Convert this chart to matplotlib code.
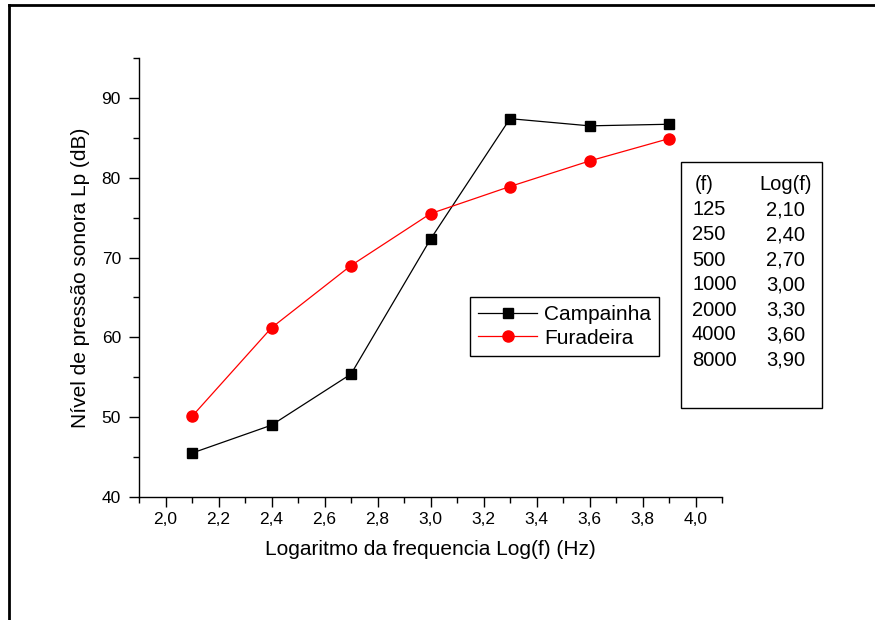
import matplotlib
matplotlib.use("Agg")
import matplotlib.pyplot as plt
from matplotlib.lines import Line2D
from matplotlib.patches import Rectangle
from matplotlib.ticker import MultipleLocator, FuncFormatter

plt.rcParams['font.family'] = ['Liberation Sans', 'DejaVu Sans']

logf = [2.1, 2.4, 2.7, 3.0, 3.3, 3.6, 3.9]
campainha = [45.5, 49.0, 55.4, 72.3, 87.4, 86.5, 86.7]
furadeira = [50.1, 61.2, 69.0, 75.5, 78.9, 82.1, 84.9]
freq_labels = ["125", "250", "500", "1000", "2000", "4000", "8000"]
log_labels = ["2,10", "2,40", "2,70", "3,00", "3,30", "3,60", "3,90"]

W, H = 875, 620
fig = plt.figure(figsize=(W / 100, H / 100), dpi=100)

def fx(px):
    return px / W

def fy(py):
    return 1 - py / H

ax = fig.add_axes([fx(139), fy(497), fx(722) - fx(139), fy(58) - fy(497)])
ax.plot(logf, campainha, color='black', lw=0.9, marker='s', markersize=7, label='Campainha')
ax.plot(logf, furadeira, color='red', lw=0.9, marker='o', markersize=8, label='Furadeira')
ax.set_xlim(1.9, 4.1)
ax.set_ylim(40, 95)
ax.spines['top'].set_visible(False)
ax.spines['right'].set_visible(False)
for s in ('left', 'bottom'):
    ax.spines[s].set_linewidth(1.0)
ax.xaxis.set_major_locator(MultipleLocator(0.2))
ax.xaxis.set_minor_locator(MultipleLocator(0.1))
ax.yaxis.set_major_locator(MultipleLocator(10))
ax.yaxis.set_minor_locator(MultipleLocator(5))
ax.xaxis.set_major_formatter(FuncFormatter(lambda v, p: f"{v:.1f}".replace('.', ',')))
ax.yaxis.set_major_formatter(FuncFormatter(lambda v, p: f"{v:.0f}"))
ax.tick_params(which='major', direction='out', length=7, width=1, labelsize=12.5)
ax.tick_params(axis='x', which='major', pad=3.5)
ax.tick_params(axis='y', which='major', pad=6)
ax.tick_params(which='minor', direction='out', length=4.5, width=1)
ax.set_xlabel('Logaritmo da frequencia Log(f) (Hz)', fontsize=15, labelpad=10)
ax.set_ylabel('Nível de pressão sonora Lp (dB)', fontsize=15, labelpad=8)

leg = ax.legend(loc='upper left', bbox_to_anchor=(fx(470), fy(297)), bbox_transform=fig.transFigure,
                fontsize=15, frameon=True, fancybox=False, edgecolor='black', framealpha=1,
                handlelength=2.8, borderpad=0.4, labelspacing=0.2, handletextpad=0.35, borderaxespad=0)
leg.get_frame().set_linewidth(1.0)

# table box
fig.add_artist(Rectangle((fx(681), fy(408)), fx(822) - fx(681), fy(162) - fy(408),
                         transform=fig.transFigure, fill=False, edgecolor='black', lw=1.0))
fig.text(fx(695), fy(185), "(f)", fontsize=14.5, va='center', ha='left')
fig.text(fx(812), fy(185), "Log(f)", fontsize=14.5, va='center', ha='right')
for i, (a, b) in enumerate(zip(freq_labels, log_labels)):
    yy = 210 + i * 25
    fig.text(fx(692), fy(yy), a, fontsize=14.5, va='center', ha='left')
    fig.text(fx(805), fy(yy), b, fontsize=14.5, va='center', ha='right')

# outer frame lines (left and top)
fig.add_artist(Line2D([fx(9), fx(9)], [fy(5), 0], transform=fig.transFigure, color='black', lw=2))
fig.add_artist(Line2D([fx(9), 1], [fy(5), fy(5)], transform=fig.transFigure, color='black', lw=2))

fig.savefig('out.png', dpi=100)
